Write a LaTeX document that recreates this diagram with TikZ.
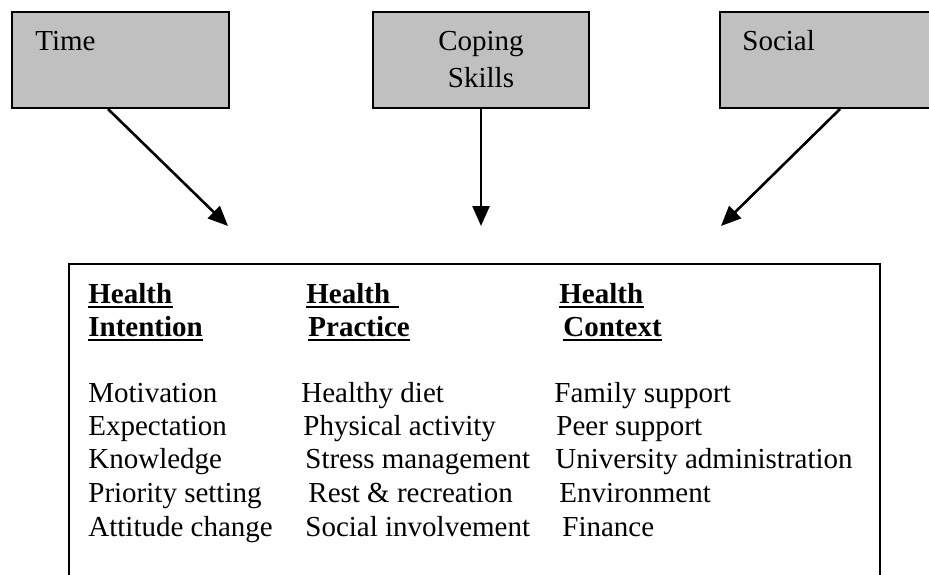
\documentclass[tikz,border=0pt]{standalone}
\usepackage{fontspec}
\setmainfont{Liberation Serif}
\usetikzlibrary{arrows.meta,calc}
\definecolor{boxgray}{HTML}{C0C0C0}
\begin{document}
\begin{tikzpicture}[x=0.5pt,y=-0.5pt,
  topbox/.style={draw=black,line width=1pt,fill=boxgray,rectangle,inner sep=0pt,anchor=north west,minimum height=48pt},
  mainbox/.style={draw=black,line width=1pt,rectangle,inner sep=0pt,anchor=north west,minimum width=405.5pt,minimum height=170pt},
  txt/.style={inner sep=0pt,anchor=base west,font=\fontsize{14.5}{17}\selectfont},
  ctxt/.style={txt,anchor=base},
  head/.style={txt,font=\fontsize{14.5}{17}\selectfont\bfseries},
  ul/.style={line width=1pt},
  arr/.style={line width=1.3pt,-{Triangle[length=10pt,width=8.5pt]}}
]
\useasboundingbox (0,0) rectangle (929,574);
% top boxes
\node[topbox,minimum width=108.5pt] (time) at (11,11) {};
\node[topbox,minimum width=108pt] (coping) at (372,11) {};
\node[topbox,minimum width=125pt] (social) at (719,11) {};
\node[txt] (ttime) at (35,50) {Time};
\node[ctxt] (tcop1) at (coping.north |- 0,50) {Coping};
\node[ctxt] (tcop2) at (coping.north |- 0,87) {Skills};
\node[txt] (tsoc) at (742,50) {Social};
% main box
\node[mainbox] (main) at (68,263) {};
% arrow ends
\coordinate (e1) at (228,226);
\coordinate (e2) at (coping.south |- 0,226);
\coordinate (e3) at (721,226);
\draw[arr] ([xshift=48.5pt]time.south west) -- (e1);
\draw[arr] (coping.south) -- (e2);
\draw[arr] ([xshift=60.5pt]social.south west) -- (e3);
% headings
\node[head] (h1a) at (88,303) {Health};
\node[head] (h1b) at (88,336) {Intention};
\node[head] (h2a) at (306,303) {Health\phantom{i}};
\node[head] (h2b) at (308,336) {Practice};
\node[head] (h3a) at (559,303) {Health};
\node[head] (h3b) at (563,336) {Context};
\foreach \n in {h1a,h1b,h2a,h2b,h3a,h3b}
  \draw[ul] ([yshift=-2pt]\n.base west) -- ([yshift=-2pt]\n.base east);
% column 1
\node[txt] (c1r1) at (88,402) {Motivation};
\node[txt] (c1r2) at (88,435) {Expectation};
\node[txt] (c1r3) at (88,468) {Knowledge};
\node[txt] (c1r4) at (88,502) {Priority setting};
\node[txt] (c1r5) at (88,536) {Attitude change};
% column 2
\node[txt] (c2r1) at (301,402) {Healthy diet};
\node[txt] (c2r2) at (303,435) {Physical activity};
\node[txt] (c2r3) at (305,468) {Stress management};
\node[txt] (c2r4) at (308,502) {Rest \& recreation};
\node[txt] (c2r5) at (305,536) {Social involvement};
% column 3
\node[txt] (c3r1) at (554,402) {Family support};
\node[txt] (c3r2) at (556,435) {Peer support};
\node[txt] (c3r3) at (555,468) {University administration};
\node[txt] (c3r4) at (559,502) {Environment};
\node[txt] (c3r5) at (562,536) {Finance};
\end{tikzpicture}
\end{document}
